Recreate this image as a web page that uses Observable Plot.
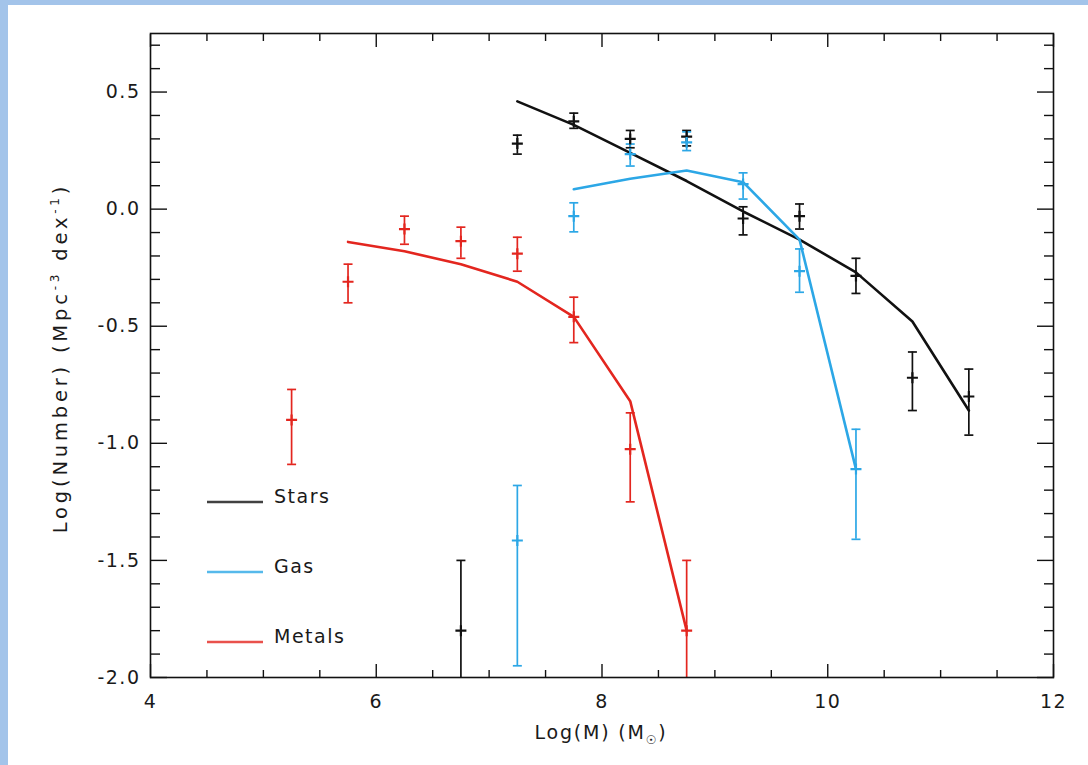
<!DOCTYPE html>
<html><head><meta charset="utf-8">
<script src="https://cdn.jsdelivr.net/npm/d3@7"></script>
<script src="https://cdn.jsdelivr.net/npm/@observablehq/plot@0.6"></script>
<style>
html,body{margin:0;padding:0;background:#fff;}
#wrap{position:relative;width:1088px;height:765px;overflow:hidden;background:#fff;}
.band-top{position:absolute;left:0;top:0;width:1088px;height:5px;background:#a3c4ea;}
.band-left{position:absolute;left:0;top:0;width:8px;height:765px;background:#a3c4ea;}
#chart{position:absolute;left:0;top:0;}
#legend{position:absolute;left:0;top:0;}
</style></head><body>
<div id="wrap"><div class="band-top"></div><div class="band-left"></div><div id="chart"></div><div id="legend"></div></div>
<script>
// ---- data ----
const seriesNames = ["Stars", "Gas", "Metals"];
const seriesColors = ["#111111", "#2ca7e6", "#e3261f"];

// measured points with error bars
const starsX  = [6.75, 7.25, 7.75, 8.25, 8.75, 9.25, 9.75, 10.25, 10.75, 11.25];
const starsY  = [-1.80, 0.28, 0.375, 0.30, 0.31, -0.04, -0.03, -0.285, -0.72, -0.80];
const starsLo = [-2.30, 0.235, 0.345, 0.262, 0.27, -0.11, -0.085, -0.36, -0.86, -0.965];
const starsHi = [-1.50, 0.316, 0.41, 0.336, 0.336, 0.01, 0.022, -0.21, -0.61, -0.683];

const gasX  = [7.25, 7.75, 8.25, 8.75, 9.25, 9.75, 10.25];
const gasY  = [-1.415, -0.03, 0.235, 0.285, 0.107, -0.265, -1.11];
const gasLo = [-1.95, -0.097, 0.184, 0.25, 0.043, -0.355, -1.41];
const gasHi = [-1.18, 0.027, 0.278, 0.33, 0.155, -0.17, -0.94];

const metalsX  = [5.25, 5.75, 6.25, 6.75, 7.25, 7.75, 8.25, 8.75];
const metalsY  = [-0.90, -0.31, -0.085, -0.137, -0.19, -0.46, -1.025, -1.80];
const metalsLo = [-1.09, -0.40, -0.15, -0.21, -0.265, -0.57, -1.25, -2.30];
const metalsHi = [-0.77, -0.235, -0.03, -0.077, -0.12, -0.376, -0.87, -1.50];

// model curves
const starsModelX = [7.25, 7.75, 8.25, 8.75, 9.25, 9.75, 10.25, 10.75, 11.25];
const starsModelY = [0.46, 0.36, 0.24, 0.12, -0.01, -0.13, -0.27, -0.48, -0.86];
const gasModelX = [7.75, 8.25, 8.75, 9.25, 9.75, 10.25];
const gasModelY = [0.085, 0.13, 0.165, 0.115, -0.13, -1.11];
const metalsModelX = [5.75, 6.25, 6.75, 7.25, 7.75, 8.25, 8.75];
const metalsModelY = [-0.14, -0.18, -0.235, -0.31, -0.46, -0.82, -1.80];

// axes
const xDomain = [4, 12];
const yDomain = [-2, 0.75];
const xMajor = [4, 6, 8, 10, 12];
const xMinor = [4.5, 5, 5.5, 6.5, 7, 7.5, 8.5, 9, 9.5, 10.5, 11, 11.5];
const yMajor = [-2.0, -1.5, -1.0, -0.5, 0.0, 0.5];
const yMinor = [-1.9, -1.8, -1.7, -1.6, -1.4, -1.3, -1.2, -1.1, -0.9, -0.8, -0.7, -0.6,
                -0.4, -0.3, -0.2, -0.1, 0.1, 0.2, 0.3, 0.4, 0.6, 0.7];

// ---- tables ----
const pts = (s, xs, ys, lo, hi) => xs.map((x, i) => ({series: s, x, y: ys[i], lo: lo[i], hi: hi[i]}));
const points = [
  ...pts("Stars", starsX, starsY, starsLo, starsHi),
  ...pts("Gas", gasX, gasY, gasLo, gasHi),
  ...pts("Metals", metalsX, metalsY, metalsLo, metalsHi)
];
const mdl = (s, xs, ys) => xs.map((x, i) => ({series: s, x, y: ys[i]}));
const models = [
  ...mdl("Stars", starsModelX, starsModelY),
  ...mdl("Gas", gasModelX, gasModelY),
  ...mdl("Metals", metalsModelX, metalsModelY)
];

const capSymbol = {draw(ctx, size) { const r = Math.sqrt(size / Math.PI); ctx.moveTo(-r, 0); ctx.lineTo(r, 0); }};
const plusSymbol = {draw(ctx, size) { const r = Math.sqrt(size / Math.PI); ctx.moveTo(-r, 0); ctx.lineTo(r, 0); ctx.moveTo(0, -r); ctx.lineTo(0, r); }};

const fmtY = d => d3.format(".1f")(d).replace("−", "-");

const chart = Plot.plot({
  width: 1088, height: 765,
  marginLeft: 150, marginRight: 35, marginTop: 33, marginBottom: 88,
  x: {domain: xDomain},
  y: {domain: yDomain},
  color: {domain: seriesNames, range: seriesColors},
  style: {background: "transparent", fontFamily: "DejaVu Sans", fontSize: "19px", color: "#111", overflow: "visible"},
  marks: [
    // model lines
    Plot.line(models, {x: "x", y: "y", z: "series", stroke: "series", strokeWidth: 2.6, clip: true}),
    // error bars
    Plot.ruleX(points, {x: "x", y1: "lo", y2: "hi", stroke: "series", strokeWidth: 1.7, clip: true}),
    Plot.dot(points, {x: "x", y: "lo", symbol: capSymbol, r: 4.5, stroke: "series", fill: "none", strokeWidth: 1.7, clip: true}),
    Plot.dot(points, {x: "x", y: "hi", symbol: capSymbol, r: 4.5, stroke: "series", fill: "none", strokeWidth: 1.7, clip: true}),
    Plot.dot(points, {x: "x", y: "y", symbol: plusSymbol, r: 5.5, stroke: "series", fill: "none", strokeWidth: 2.2, clip: true}),
    // frame and inward ticks on all four sides
    Plot.frame({stroke: "#111", strokeWidth: 1.6}),
    Plot.axisX({ticks: xMajor, anchor: "bottom", tickSize: -13, fill: "none", label: null, strokeWidth: 1.4}),
    Plot.axisX({ticks: xMinor, anchor: "bottom", tickSize: -7, fill: "none", label: null, strokeWidth: 1.4}),
    Plot.axisX({ticks: xMajor, anchor: "top", tickSize: -13, fill: "none", label: null, strokeWidth: 1.4}),
    Plot.axisX({ticks: xMinor, anchor: "top", tickSize: -7, fill: "none", label: null, strokeWidth: 1.4}),
    Plot.axisY({ticks: yMajor, anchor: "left", tickSize: -17, fill: "none", label: null, strokeWidth: 1.4}),
    Plot.axisY({ticks: yMinor, anchor: "left", tickSize: -10, fill: "none", label: null, strokeWidth: 1.4}),
    Plot.axisY({ticks: yMajor, anchor: "right", tickSize: -17, fill: "none", label: null, strokeWidth: 1.4}),
    Plot.axisY({ticks: yMinor, anchor: "right", tickSize: -10, fill: "none", label: null, strokeWidth: 1.4}),
    // tick labels
    Plot.axisX({ticks: xMajor, anchor: "bottom", tickSize: 0, tickPadding: 17, tickFormat: d => String(d), label: null, fill: "#1a1a1a"}),
    Plot.axisY({ticks: yMajor, anchor: "left", tickSize: 0, tickPadding: 10, tickFormat: fmtY, label: null, fill: "#1a1a1a"})
  ]
});
document.getElementById("chart").appendChild(chart);

const svg = d3.select(chart);
svg.selectAll("text").style("letter-spacing", "1.5px");

// axis titles
const yt = svg.append("text")
  .attr("transform", "translate(67,358) rotate(-90)")
  .attr("text-anchor", "middle")
  .attr("font-family", "DejaVu Sans").attr("font-size", 19.5).attr("fill", "#1a1a1a")
  .style("letter-spacing", "3.8px");
yt.append("tspan").text("Log(Number) (Mpc");
yt.append("tspan").attr("font-size", 12).attr("dy", -8).text("-3");
yt.append("tspan").attr("dy", 8).text(" dex");
yt.append("tspan").attr("font-size", 12).attr("dy", -8).text("-1");
yt.append("tspan").attr("dy", 8).text(")");

const xt = svg.append("text")
  .attr("x", 601).attr("y", 739)
  .attr("text-anchor", "middle")
  .attr("font-family", "DejaVu Sans").attr("font-size", 19).attr("fill", "#1a1a1a")
  .style("letter-spacing", "1.8px");
xt.append("tspan").text("Log(M) (M");
xt.append("tspan").attr("font-size", 12).attr("dy", 5).text("☉");
xt.append("tspan").attr("dy", -5).text(")");

// legend
const leg = d3.select("#legend").append("svg").attr("width", 1088).attr("height", 765);
seriesNames.forEach((name, i) => {
  const y = 502 + i * 70;
  leg.append("line").attr("x1", 207).attr("x2", 263).attr("y1", y).attr("y2", y)
    .attr("stroke", seriesColors[i]).attr("stroke-width", 2.4).attr("stroke-opacity", 0.8);
  leg.append("text").attr("x", 274).attr("y", y - 6).attr("dy", "0.35em")
    .attr("font-family", "DejaVu Sans").attr("font-size", 19).attr("fill", "#1a1a1a")
    .style("letter-spacing", "1.5px").text(name);
});
</script>
</body></html>
